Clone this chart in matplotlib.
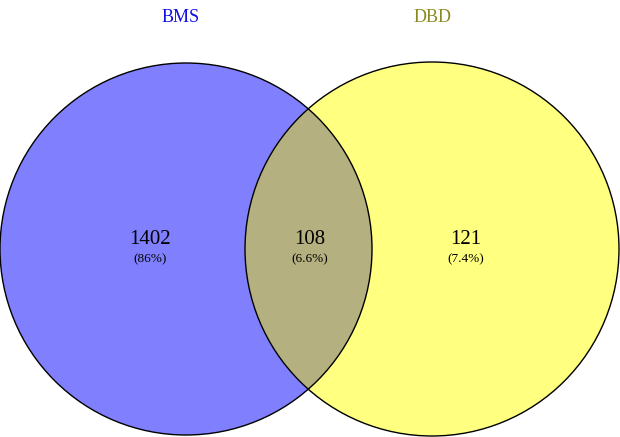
import matplotlib
matplotlib.use("Agg")
import matplotlib.pyplot as plt
from matplotlib.patches import Circle

set_names = ["BMS", "DBD"]
counts = [1402, 108, 121]
percents = ["(86%)", "(6.6%)", "(7.4%)"]

W, H = 620, 437
fig = plt.figure(figsize=(6.2, 4.37), dpi=100)
ax = fig.add_axes([0, 0, 1, 1])
ax.set_xlim(0, W); ax.set_ylim(H, 0); ax.axis("off")

c1 = (186, 249, 186); c2 = (432, 249, 187)
ax.add_patch(Circle(c1[:2], c1[2], fc="#8080FF", ec="none"))
ax.add_patch(Circle(c2[:2], c2[2], fc="#FFFF80", ec="none"))
inter = Circle(c1[:2], c1[2], fc="#B5B07F", ec="none")
ax.add_patch(inter)
clip = Circle(c2[:2], c2[2], transform=ax.transData)
inter.set_clip_path(clip)
ax.add_patch(Circle(c1[:2], c1[2], fc="none", ec="black", lw=1))
ax.add_patch(Circle(c2[:2], c2[2], fc="none", ec="black", lw=1))

fam = ["Liberation Serif", "DejaVu Serif"]
ax.text(181, 18, set_names[0], color="#1010E0", fontsize=13, ha="center", va="center", family=fam)
ax.text(433, 18, set_names[1], color="#8A8A20", fontsize=13, ha="center", va="center", family=fam)
xs = [150, 310, 466]
for x, n, p in zip(xs, counts, percents):
    ax.text(x, 240, str(n), fontsize=15, ha="center", va="center", family=fam)
    ax.text(x, 259, p, fontsize=9.5, ha="center", va="center", family=fam)

fig.savefig("out.png", dpi=100)
